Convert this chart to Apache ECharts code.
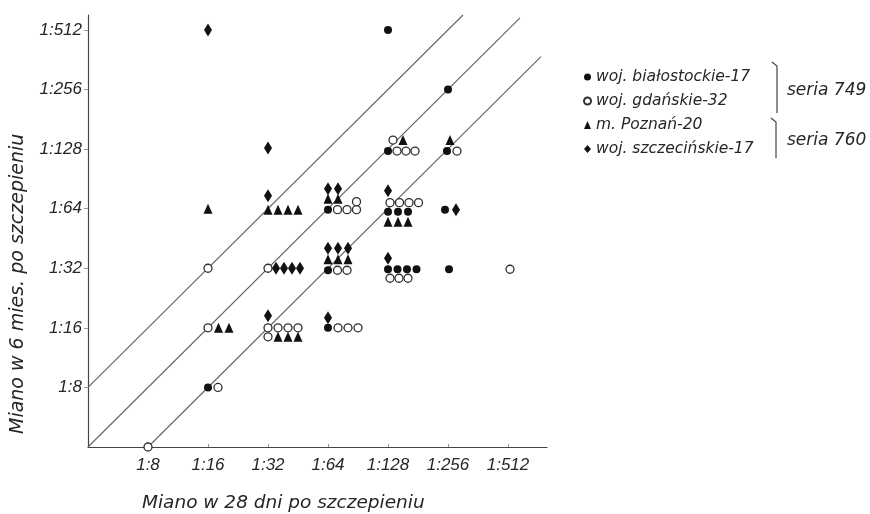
<!DOCTYPE html>
<html>
<head>
<meta charset="utf-8">
<script src="https://cdn.jsdelivr.net/npm/echarts@6/dist/echarts.min.js"></script>
<style>
  html, body { margin: 0; padding: 0; background: #ffffff; }
  #chart { width: 870px; height: 514px; }
</style>
</head>
<body>
<div id="chart"></div>
<script>
// Titre pairs per child: [titre 28 days after vaccination, titre 6 months after] (reciprocal dilution)
const bialostockie = [
  [128,512],[256,256],[128,128],[256,128],[64,64],[128,64],[128,64],[128,64],[256,64],
  [64,32],[128,32],[128,32],[128,32],[128,32],[256,32],[64,16],[16,8]
];
const gdanskie = [
  [128,128],[128,128],[128,128],[128,128],[256,128],
  [64,64],[64,64],[64,64],[64,64],[128,64],[128,64],[128,64],[128,64],
  [16,32],[32,32],[64,32],[64,32],[128,32],[128,32],[128,32],[512,32],
  [16,16],[32,16],[32,16],[32,16],[32,16],[32,16],[64,16],[64,16],[64,16],
  [16,8],[8,4]
];
const poznan = [
  [128,128],[256,128],[16,64],[32,64],[32,64],[32,64],[32,64],[64,64],[64,64],
  [128,64],[128,64],[128,64],[64,32],[64,32],[64,32],[16,16],[16,16],[32,16],[32,16],[32,16]
];
const szczecinskie = [
  [16,512],[32,128],[32,64],[64,64],[64,64],[128,64],[256,64],
  [32,32],[32,32],[32,32],[32,32],[64,32],[64,32],[64,32],[128,32],[32,16],[64,16]
];
const tickTitres = [8, 16, 32, 64, 128, 256, 512];
const groupNames = ['woj. białostockie-17', 'woj. gdańskie-32', 'm. Poznań-20', 'woj. szczecińskie-17'];
const seriesLabels = ['seria 749', 'seria 760'];
const xTitle = 'Miano w 28 dni po szczepieniu';
const yTitle = 'Miano w 6 mies. po szczepieniu';

// How coincident points are spread inside one titre cell: rows of [dy, dx0, codes, gap] in px.
// C = białostockie, O = gdańskie, T = Poznań, D = szczecińskie
const cellLayout = {
  '16,512':  [[0, 0, 'D']],
  '128,512': [[0, 0, 'C']],
  '256,256': [[0, 0, 'C']],
  '32,128':  [[-1, 0, 'D']],
  '128,128': [[-9, 5, 'OT'], [2, 0, 'COOO', 9]],
  '256,128': [[-9, 2, 'T'], [2, -1, 'CO']],
  '16,64':   [[0, 0, 'T']],
  '32,64':   [[-13, 0, 'D'], [1, 0, 'TTTT']],
  '64,64':   [[-20, 0, 'DD'], [-10, 0, 'TT'], [1, 0, 'COOO', 9.5], [-7, 28.5, 'O']],
  '128,64':  [[-18, 0, 'D'], [-6, 2, 'OOOO', 9.5], [3, 0, 'CCC'], [13, 0, 'TTT']],
  '256,64':  [[1, -3, 'CD', 11]],
  '16,32':   [[0, 0, 'O']],
  '32,32':   [[0, 0, 'ODDDD', 8]],
  '64,32':   [[-20, 0, 'DDD'], [-9, 0, 'TTT'], [2, 0, 'COO', 9.5]],
  '128,32':  [[-10, 0, 'D'], [1, 0, 'CCCC', 9.5], [10, 2, 'OOO', 9]],
  '256,32':  [[1, 1, 'C']],
  '512,32':  [[1, 2, 'O']],
  '16,16':   [[0, 0, 'OTT', 10.5]],
  '32,16':   [[-12, 0, 'D'], [0, 0, 'OOOO'], [9, 0, 'OTTT']],
  '64,16':   [[-10, 0, 'D'], [0, 0, 'COOO']],
  '16,8':    [[0, 0, 'CO']],
  '8,4':     [[0, 0, 'O']]
};

const cellSlots = {};
Object.keys(cellLayout).forEach(function (key) {
  const slots = {};
  cellLayout[key].forEach(function (row) {
    const gap = row[3] || 10;
    row[2].split('').forEach(function (code, i) {
      (slots[code] = slots[code] || []).push([row[1] + i * gap, row[0]]);
    });
  });
  cellSlots[key] = slots;
});

function placePoints(pairs, code) {
  const used = {};
  return pairs.map(function (p) {
    const key = p[0] + ',' + p[1];
    const n = used[key] = (used[key] || 0) + 1;
    const slots = (cellSlots[key] && cellSlots[key][code]) || [];
    const off = slots[n - 1] || [(n - 1) * 10, 0];
    return { value: [Math.log2(p[0]), Math.log2(p[1])], symbolOffset: off };
  });
}

const ink = '#111111';
const textInk = '#262626';
const tickFont = "'Liberation Sans', 'DejaVu Sans', sans-serif";
const wideFont = "'DejaVu Sans', 'Liberation Sans', sans-serif";
const tickValues = tickTitres.map(function (t) { return Math.log2(t); });
const titreLabel = function (v) { return '1:' + Math.round(Math.pow(2, v)); };

function diagonal(points) {
  return {
    type: 'line', data: points, symbol: 'none', silent: true, clip: false,
    lineStyle: { color: '#636363', width: 1.1 }, z: 1, legendHoverLink: false
  };
}

const chart = echarts.init(document.getElementById('chart'), null, { renderer: 'canvas' });
chart.setOption({
  backgroundColor: '#ffffff',
  animation: false,
  textStyle: { fontFamily: tickFont, fontStyle: 'italic', color: textInk },
  grid: { left: 88, top: 15, width: 459, height: 432 },
  xAxis: {
    type: 'value', min: 2, max: 9.65,
    axisLine: { lineStyle: { color: '#444444', width: 1.2 } },
    axisTick: { show: true, inside: true, length: 3, customValues: tickValues, lineStyle: { color: '#999' } },
    axisLabel: {
      customValues: tickValues, formatter: titreLabel, margin: 10,
      fontSize: 17, fontStyle: 'italic', fontFamily: tickFont, color: textInk
    },
    splitLine: { show: false }
  },
  yAxis: {
    type: 'value', min: 2, max: 9.25,
    axisLine: { show: true, lineStyle: { color: '#444444', width: 1.2 } },
    axisTick: { show: true, length: 4, customValues: tickValues, lineStyle: { color: '#999' } },
    axisLabel: {
      customValues: tickValues, formatter: titreLabel, margin: 6,
      fontSize: 17, fontStyle: 'italic', fontFamily: tickFont, color: textInk
    },
    splitLine: { show: false }
  },
  legend: {
    orient: 'vertical', left: 578, top: 63, itemGap: 6, itemWidth: 7, itemHeight: 8,
    data: groupNames,
    textStyle: { fontSize: 15.5, fontStyle: 'italic', fontFamily: wideFont, color: textInk, lineHeight: 18 },
    selectedMode: false
  },
  graphic: [
    { type: 'polyline', shape: { points: [[772, 62], [777, 66], [777, 113]] }, style: { stroke: '#444', lineWidth: 1.2, fill: null } },
    { type: 'polyline', shape: { points: [[771, 118], [776, 122], [776, 158]] }, style: { stroke: '#444', lineWidth: 1.2, fill: null } },
    { type: 'text', left: 787, top: 82, style: { text: seriesLabels[0], font: 'italic 17px ' + wideFont, fill: textInk } },
    { type: 'text', left: 787, top: 132, style: { text: seriesLabels[1], font: 'italic 17px ' + wideFont, fill: textInk } },
    { type: 'text', left: 142, top: 494, style: { text: xTitle, font: 'italic 18.5px ' + wideFont, fill: textInk } },
    { type: 'text', x: 9, y: 434, rotation: Math.PI / 2, style: { text: yTitle, font: 'italic 19px ' + wideFont, fill: textInk } }
  ],
  series: [
    diagonal([[2, 3], [8.25, 9.25]]),
    diagonal([[2, 2], [9.2, 9.2]]),
    diagonal([[3, 2], [9.55, 8.55]]),
    {
      name: groupNames[0], type: 'scatter', clip: false, z: 3,
      symbol: 'circle', symbolSize: 8,
      itemStyle: { color: ink, opacity: 1 },
      data: placePoints(bialostockie, 'C')
    },
    {
      name: groupNames[1], type: 'scatter', clip: false, z: 3,
      symbol: 'circle', symbolSize: 8,
      itemStyle: { color: '#ffffff', borderColor: '#2e2e2e', borderWidth: 1.3, opacity: 1 },
      data: placePoints(gdanskie, 'O')
    },
    {
      name: groupNames[2], type: 'scatter', clip: false, z: 3,
      symbol: 'triangle', symbolSize: [9, 10],
      itemStyle: { color: ink, opacity: 1 },
      data: placePoints(poznan, 'T')
    },
    {
      name: groupNames[3], type: 'scatter', clip: false, z: 3,
      symbol: 'diamond', symbolSize: [8, 13],
      itemStyle: { color: ink, opacity: 1 },
      data: placePoints(szczecinskie, 'D')
    }
  ]
});
</script>
</body>
</html>
